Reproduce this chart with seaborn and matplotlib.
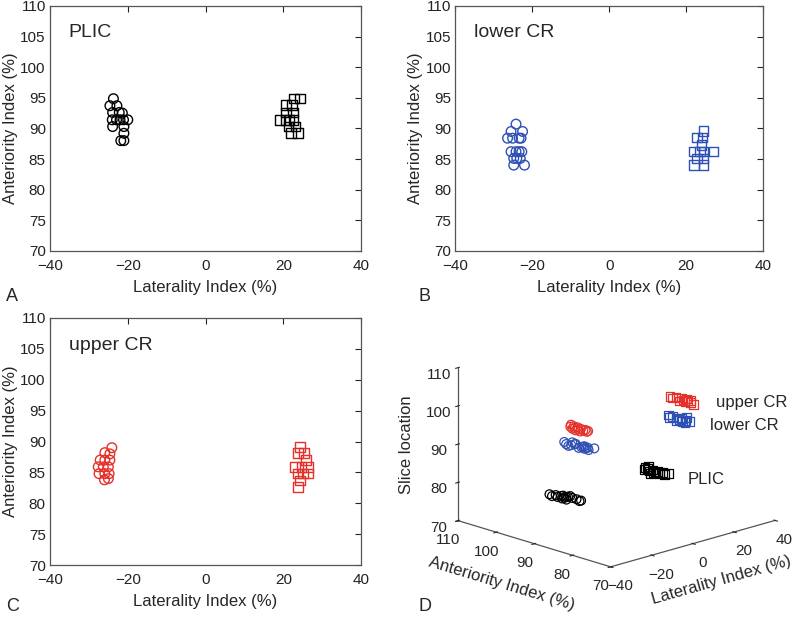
import numpy as np
import pandas as pd
import matplotlib
matplotlib.use("Agg")
import matplotlib.pyplot as plt
import seaborn as sns

# ---- data (Laterality %, Anteriority %) ----
plic_circ_x = [-23.7, -24.6, -22.8, -23.9, -22.2, -21.4, -24.0, -22.9, -22.0, -21.1, -20.0, -23.9, -21.0, -21.0, -21.8, -21.0]
plic_circ_y = [94.85, 93.7, 93.7, 92.6, 92.6, 92.5, 91.4, 91.4, 91.4, 91.4, 91.4, 90.3, 90.3, 89.2, 88.0, 88.0]
plic_sq_x = [19.0, 20.7, 22.2, 22.8, 24.3, 20.7, 22.4, 20.5, 21.6, 22.6, 21.3, 23.1, 21.9, 23.7]
plic_sq_y = [91.4, 93.8, 93.8, 94.85, 94.85, 92.6, 92.6, 91.4, 91.4, 91.4, 90.3, 90.3, 89.2, 89.2]

lower_circ_x = [-24.2, -25.5, -22.5, -26.4, -25.1, -23.4, -22.9, -25.5, -24.2, -23.4, -22.7, -24.8, -24.0, -23.1, -24.8, -22.0]
lower_circ_y = [90.7, 89.5, 89.5, 88.4, 88.4, 88.4, 88.4, 86.2, 86.2, 86.2, 86.2, 85.1, 85.1, 85.1, 84.0, 84.0]
lower_sq_x = [24.5, 22.8, 24.2, 24.0, 22.1, 23.6, 24.5, 27.1, 22.8, 24.5, 22.1, 24.5]
lower_sq_y = [89.6, 88.5, 88.5, 87.3, 86.2, 86.2, 86.2, 86.2, 85.1, 85.1, 84.0, 84.0]

upper_circ_x = [-24.1, -25.9, -24.6, -27.1, -25.9, -24.6, -27.6, -26.3, -25.0, -27.4, -25.9, -24.8, -26.0, -25.0]
upper_circ_y = [89.0, 88.2, 88.0, 87.0, 87.0, 87.0, 85.9, 85.9, 85.9, 84.8, 84.8, 84.8, 83.8, 84.0]
upper_sq_x = [24.3, 23.8, 25.3, 25.8, 23.0, 24.7, 26.4, 23.6, 25.0, 26.4, 24.3, 23.7]
upper_sq_y = [89.1, 88.1, 88.1, 87.0, 85.9, 85.9, 85.9, 84.8, 84.8, 84.8, 83.7, 82.6]

region_names = ["PLIC", "lower CR", "upper CR"]
region_colors = ["black", "#2f50b4", "#e5312a"]
slice_level = [79, 94, 99]   # slice location used in panel D
panel_letters = ["A", "B", "C", "D"]

groups = [
    (plic_circ_x, plic_circ_y, plic_sq_x, plic_sq_y),
    (lower_circ_x, lower_circ_y, lower_sq_x, lower_sq_y),
    (upper_circ_x, upper_circ_y, upper_sq_x, upper_sq_y),
]

sns.set_style("white")
plt.rcParams["font.family"] = ["Liberation Sans", "DejaVu Sans"]
plt.rcParams["font.size"] = 11

fig = plt.figure(figsize=(8, 6.21), dpi=100)

# ---- panel D first (3D view), so 2D panels draw on top ----
ax3 = fig.add_axes([0.54, 0.0, 0.45, 0.555], projection="3d", proj_type="ortho")
ax3.patch.set_visible(False)
for (cx, cy, qx, qy), col, z in zip(groups, region_colors, slice_level):
    ax3.scatter(cx, cy, np.full(len(cx), z), marker="o", s=40, facecolor="none",
                edgecolor=col, linewidth=0.9, depthshade=False)
    ax3.scatter(qx, qy, np.full(len(qx), z), marker="s", s=40, facecolor="none",
                edgecolor=col, linewidth=0.9, depthshade=False)
ax3.set_xlim(-40, 40)
ax3.set_ylim(70, 110)
ax3.set_zlim(70, 110)
ax3.set_xticks([-40, -20, 0, 20, 40])
ax3.set_yticks([70, 80, 90, 100, 110])
ax3.set_zticks([70, 80, 90, 100, 110])
ax3.set_box_aspect((1, 0.96, 0.7))
ax3.view_init(elev=17, azim=-134)
ax3.grid(False)
for a in (ax3.xaxis, ax3.yaxis, ax3.zaxis):
    a.pane.fill = False
    a.pane.set_edgecolor("none")
    a.line.set_color("#555555")
    a.line.set_linewidth(0.9)
ax3.tick_params(labelsize=11, pad=0)
ax3.set_xlabel("Laterality Index (%)", fontsize=12, labelpad=3)
ax3.set_ylabel("Anteriority Index (%)", fontsize=12, labelpad=5)
ax3.set_zlabel("Slice location", fontsize=12, labelpad=0)

# ---- panels A-C ----
rects = [
    [0.0625, 0.596, 0.389, 0.3945],
    [0.569, 0.596, 0.385, 0.3945],
    [0.0625, 0.090, 0.389, 0.398],
]

for rect, name, col, g in zip(rects, region_names, region_colors, groups):
    ax = fig.add_axes(rect)
    cx, cy, qx, qy = g
    sns.scatterplot(x=cx, y=cy, marker="o", s=48, facecolor="none", edgecolor=col,
                    linewidth=1.0, ax=ax, legend=False)
    sns.scatterplot(x=qx, y=qy, marker="s", s=48, facecolor="none", edgecolor=col,
                    linewidth=1.0, ax=ax, legend=False)
    ax.set_xlim(-40, 40)
    ax.set_ylim(70, 110)
    ax.set_xticks([-40, -20, 0, 20, 40])
    ax.set_yticks(np.arange(70, 111, 5))
    ax.tick_params(direction="in", top=True, right=True, length=4, width=0.8,
                   labelsize=11, colors="#222222")
    ax.tick_params(axis="x", pad=6)
    ax.tick_params(axis="y", pad=3)
    for sp in ax.spines.values():
        sp.set_color("#555555")
        sp.set_linewidth(0.9)
    ax.set_xlabel("Laterality Index (%)", fontsize=12, labelpad=5)
    ax.set_ylabel("Anteriority Index (%)", fontsize=12, labelpad=2)
    ax.text(0.06, 0.89, name, transform=ax.transAxes, fontsize=14, va="center")

fig.text(0.895, 1 - 402 / 621, "upper CR", fontsize=12, va="center")
fig.text(0.887, 1 - 426 / 621, "lower CR", fontsize=12, va="center")
fig.text(0.860, 1 - 479 / 621, "PLIC", fontsize=12, va="center")

for (fx, fy), letter in zip([(0.008, 0.523), (0.523, 0.523), (0.008, 0.023), (0.523, 0.023)], panel_letters):
    fig.text(fx, fy, letter, fontsize=13, va="center")

fig.savefig("out.png", dpi=100)
